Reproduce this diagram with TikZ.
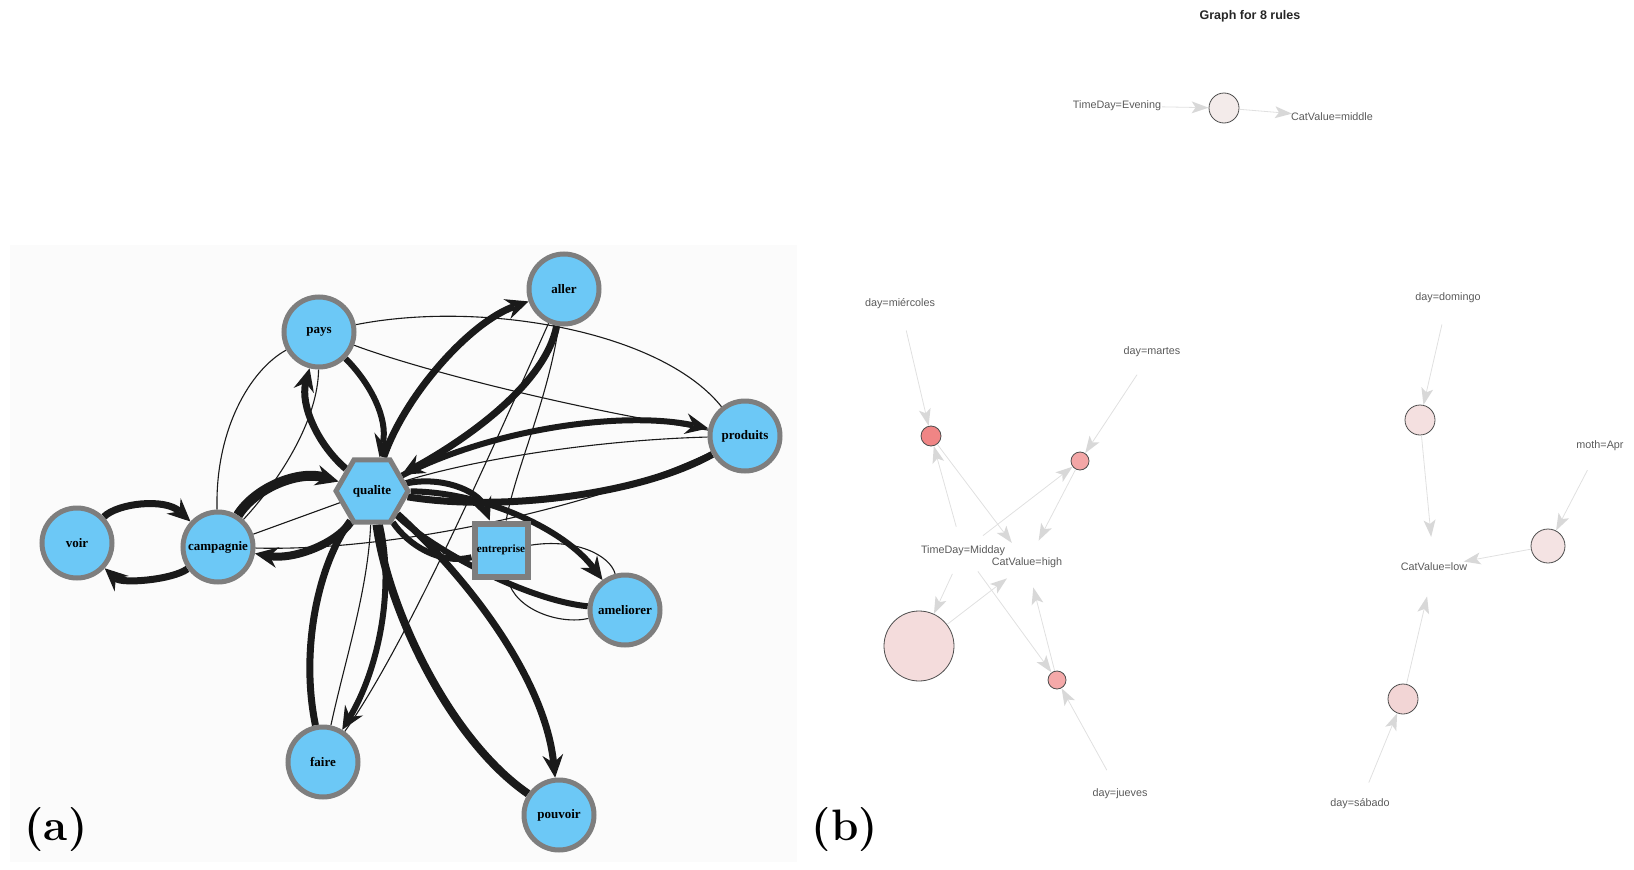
\documentclass[tikz,border=0pt]{standalone}
\usepackage{fontspec}
\newfontfamily\wordfont{Liberation Serif}
\newfontfamily\rulefont{Liberation Sans}
\usepackage{tikz}
\usetikzlibrary{shapes.geometric, arrows.meta, positioning}
\usepackage{xcolor}
\definecolor{wordblue}{HTML}{6CC8F6}
\definecolor{ringgray}{HTML}{7E7E7E}
\definecolor{edgeink}{HTML}{1A1A1A}
\definecolor{panelbg}{HTML}{FBFBFB}
\definecolor{rulegray}{HTML}{E0E0E0}
\definecolor{tipgray}{HTML}{D8D8D8}
\definecolor{labelgray}{HTML}{5A5A5A}
\definecolor{rimgray}{HTML}{4D4D4D}
\pgfdeclarelayer{back}
\pgfdeclarelayer{edges}
\pgfsetlayers{back,edges,main}
\tikzstyle{word} = [
    circle, minimum size=70pt, inner sep=0pt, line width=5pt,
    draw=ringgray, fill=wordblue, font=\wordfont\fontsize{13}{15}\selectfont\bfseries
]
\tikzstyle{hub} = [
    regular polygon, regular polygon sides=6, minimum size=72pt, inner sep=0pt,
    line width=5pt, draw=ringgray, fill=wordblue, font=\wordfont\fontsize{13}{15}\selectfont\bfseries
]
\tikzstyle{firm} = [
    rectangle, minimum size=53pt, inner sep=0pt, line width=6pt,
    draw=ringgray, fill=wordblue, font=\wordfont\fontsize{11.2}{13}\selectfont\bfseries
]
\tikzstyle{strongedge} = [draw=edgeink, line width=7pt,
    -{Stealth[length=23pt, width=21pt, inset=8pt, line width=0pt]}]
\tikzstyle{weakedge} = [draw=edgeink, line width=1.1pt]
\tikzstyle{itemset} = [circle, minimum size=54pt, inner sep=0pt]
\tikzstyle{itemtext} = [font=\rulefont\fontsize{10.8}{12}\selectfont, text=labelgray]
\tikzstyle{rulept} = [circle, inner sep=0pt, draw=rimgray, line width=0.8pt]
\tikzstyle{ruleedge} = [draw=rulegray, line width=0.8pt,
    -{Stealth[length=17pt, width=12pt, inset=4pt, line width=0pt, fill=tipgray]}]

\begin{document}
\begin{tikzpicture}[x=1pt, y=-1pt]
    \useasboundingbox (0,0) rectangle (1634,870);
    \begin{pgfonlayer}{back}
        \fill[panelbg] (10,245) rectangle (797,862);
    \end{pgfonlayer}

    % (a) word graph
    \node[hub] (qualite) at (372,491) {qualite};
    \node[word] (aller) at (564,289) {aller};
    \node[word] (pays) at (319,332) {pays};
    \node[word] (produits) at (745,436) {produits};
    \node[word] (voir) at (77,543) {voir};
    \node[word] (campagnie) at (218,547) {campagnie};
    \node[firm] (entreprise) at (501,550) {entreprise};
    \node[word] (ameliorer) at (625,610) {ameliorer};
    \node[word] (faire) at (323,762) {faire};
    \node[word] (pouvoir) at (559,815) {pouvoir};
    \node[font=\fontsize{44}{48}\selectfont\bfseries] (tagA) at (56,830) {(a)};

    \begin{pgfonlayer}{edges}
    % heavy edges
    \draw[strongedge] (voir) .. controls (118,503) and (165,498) .. (campagnie);
    \draw[strongedge] (campagnie) .. controls (172,580) and (122,584) .. (voir);
    \draw[strongedge, line width=10pt] (campagnie) .. controls (255,488) and (298,470) .. (qualite);
    \draw[strongedge, line width=8pt] (qualite) .. controls (335,545) and (292,560) .. (campagnie);
    \draw[strongedge] (qualite) .. controls (318,445) and (300,405) .. (pays);
    \draw[strongedge, line width=6pt] (pays) .. controls (372,385) and (388,420) .. (qualite);
    \draw[strongedge] (qualite) .. controls (405,395) and (470,322) .. (aller);
    \draw[strongedge] (aller) .. controls (545,385) and (465,440) .. (qualite);
    \draw[strongedge, line width=6pt] (qualite) .. controls (490,430) and (620,410) .. (produits);
    \draw[strongedge, -] (produits) .. controls (640,495) and (500,512) .. (qualite);
    \draw[strongedge, line width=6pt] (qualite) .. controls (440,476) and (478,490) .. (entreprise);
    \draw[strongedge, line width=6pt, -] (entreprise) .. controls (440,565) and (408,545) .. (qualite);
    \draw[strongedge, line width=6pt] (qualite) .. controls (485,492) and (565,530) .. (ameliorer);
    \draw[strongedge, line width=6pt, -] (ameliorer) .. controls (525,600) and (430,548) .. (qualite);
    \draw[strongedge, line width=6pt] (qualite) .. controls (395,590) and (378,670) .. (faire);
    \draw[strongedge, -] (faire) .. controls (300,650) and (318,565) .. (qualite);
    \draw[strongedge] (qualite) .. controls (470,580) and (545,680) .. (pouvoir);
    \draw[strongedge, line width=8pt, -] (pouvoir) .. controls (450,740) and (388,610) .. (qualite);
    % light edges
    \draw[weakedge] (campagnie) -- (qualite);
    \draw[weakedge] (campagnie) .. controls (215,430) and (250,370) .. (pays);
    \draw[weakedge] (pays) .. controls (318,420) and (280,480) .. (campagnie);
    \draw[weakedge] (pays) .. controls (480,300) and (660,330) .. (produits);
    \draw[weakedge] (pays) .. controls (420,370) and (570,408) .. (produits);
    \draw[weakedge] (aller) .. controls (505,420) and (410,640) .. (faire);
    \draw[weakedge] (aller) .. controls (548,400) and (515,470) .. (entreprise);
    \draw[weakedge] (produits) .. controls (600,440) and (480,458) .. (qualite);
    \draw[weakedge] (campagnie) .. controls (400,552) and (600,505) .. (produits);
    \draw[weakedge] (entreprise) .. controls (575,538) and (610,555) .. (ameliorer);
    \draw[weakedge] (entreprise) .. controls (515,610) and (560,625) .. (ameliorer);
    \draw[weakedge] (faire) .. controls (345,660) and (368,590) .. (qualite);
    \end{pgfonlayer}

    % (b) rule graph
    \node[font=\rulefont\fontsize{12.5}{14}\selectfont\bfseries, text=black!85] (title) at (1250,16) {Graph for 8 rules};
    \node[font=\fontsize{44}{48}\selectfont\bfseries] (tagB) at (845,830) {(b)};

    \node[itemset, minimum size=90pt, label={[itemtext]center:TimeDay=Evening}] (evening) at (1117,106) {};
    \node[itemset, minimum size=80pt, label={[itemtext]center:CatValue=middle}] (middle) at (1332,117) {};
    \node[itemset, label={[itemtext]center:day=miércoles}] (miercoles) at (900,304) {};
    \node[itemset, label={[itemtext]center:day=martes}] (martes) at (1152,352) {};
    \node[itemset, minimum size=50pt, label={[itemtext]center:TimeDay=Midday}] (midday) at (963,551) {};
    \node[itemset, minimum size=50pt, label={[itemtext]center:CatValue=high}] (high) at (1027,563) {};
    \node[itemset, label={[itemtext]center:day=jueves}] (jueves) at (1120,794) {};
    \node[itemset, label={[itemtext]center:day=domingo}] (domingo) at (1448,298) {};
    \node[itemset, label={[itemtext]center:moth=Apr}] (april) at (1600,446) {};
    \node[itemset, minimum size=60pt, label={[itemtext]center:CatValue=low}] (low) at (1434,567) {};
    \node[itemset, minimum size=46pt, label={[itemtext]center:day=sábado}] (sabado) at (1360,804) {};

    \node[rulept, minimum size=30pt, fill={rgb,255:red,243;green,235;blue,234}] (r1) at (1224,108) {};
    \node[rulept, minimum size=20pt, fill={rgb,255:red,240;green,133;blue,133}] (r2) at (931,436) {};
    \node[rulept, minimum size=18pt, fill={rgb,255:red,243;green,166;blue,166}] (r3) at (1080,461) {};
    \node[rulept, minimum size=70pt, fill={rgb,255:red,244;green,220;blue,220}] (r4) at (919,646) {};
    \node[rulept, minimum size=18pt, fill={rgb,255:red,244;green,169;blue,169}] (r5) at (1057,680) {};
    \node[rulept, minimum size=30pt, fill={rgb,255:red,244;green,224;blue,224}] (r6) at (1420,420) {};
    \node[rulept, minimum size=34pt, fill={rgb,255:red,244;green,227;blue,227}] (r7) at (1548,546) {};
    \node[rulept, minimum size=30pt, fill={rgb,255:red,242;green,213;blue,213}] (r8) at (1403,699) {};

    \draw[ruleedge] (evening) -- (r1);
    \draw[ruleedge] (r1) -- (middle);
    \draw[ruleedge] (miercoles) -- (r2);
    \draw[ruleedge] (midday) -- (r2);
    \draw[ruleedge] (r2) -- (high);
    \draw[ruleedge] (martes) -- (r3);
    \draw[ruleedge] (midday) -- (r3);
    \draw[ruleedge] (r3) -- (high);
    \draw[ruleedge] (midday) -- (r4);
    \draw[ruleedge] (r4) -- (high);
    \draw[ruleedge] (midday) -- (r5);
    \draw[ruleedge] (jueves) -- (r5);
    \draw[ruleedge] (r5) -- (high);
    \draw[ruleedge] (domingo) -- (r6);
    \draw[ruleedge] (r6) -- (low);
    \draw[ruleedge] (april) -- (r7);
    \draw[ruleedge] (r7) -- (low);
    \draw[ruleedge] (sabado) -- (r8);
    \draw[ruleedge] (r8) -- (low);
\end{tikzpicture}
\end{document}
